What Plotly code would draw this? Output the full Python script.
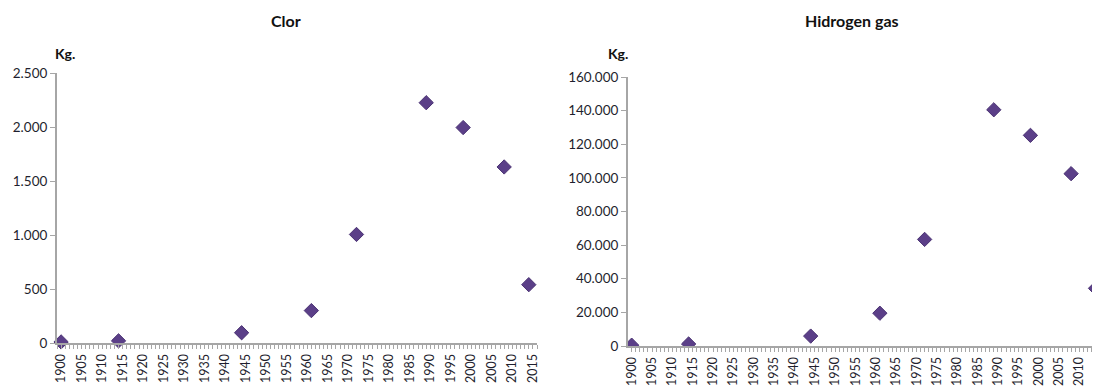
import plotly.graph_objects as go

years = [1900, 1914, 1944, 1961, 1972, 1989, 1998, 2008, 2014]
clor_kg = [10, 20, 95, 300, 1005, 2225, 1995, 1630, 540]
hydrogen_kg = [500, 1200, 5900, 19500, 63400, 140500, 125300, 102500, 34300]

x_tick_years = list(range(1900, 2016, 5))
clor_ticks = [0, 500, 1000, 1500, 2000, 2500]
clor_tick_text = ["0", "500", "1.000", "1.500", "2.000", "2.500"]
hyd_ticks = [0, 20000, 40000, 60000, 80000, 100000, 120000, 140000, 160000]
hyd_tick_text = ["0", "20.000", "40.000", "60.000", "80.000", "100.000", "120.000", "140.000", "160.000"]

# page body has an 8px margin in the browser; size the figure to fill the window
OFF = 8
W, H = 1100 - OFF, 386 - OFF
ML, MR, MT, MB = 57 - OFF, 0, 73 - OFF, 40
PW, PH = W - ML - MR, H - MT - MB

def px(x):  # x in window pixels -> paper fraction
    return (x - OFF - ML) / PW

def py(y):  # y in window pixels -> paper fraction
    return (H - MB - (y - OFF)) / PH

FONT = "Lato, 'Open Sans', sans-serif"
AX = "#a6a6a6"
MCOL = "#5b3f88"
TXT = "#1f1f2e"

fig = go.Figure()
marker = dict(symbol="diamond", size=11, color=MCOL, line=dict(color="#4a3273", width=1))
fig.add_trace(go.Scatter(x=years, y=clor_kg, mode="markers", marker=marker,
                         xaxis="x", yaxis="y", showlegend=False, cliponaxis=False))
fig.add_trace(go.Scatter(x=years, y=hydrogen_kg, mode="markers", marker=marker,
                         xaxis="x2", yaxis="y2", showlegend=False, cliponaxis=True))

xcommon = dict(
    tickmode="array", tickvals=x_tick_years, ticktext=[str(v) for v in x_tick_years],
    tickangle=-90, ticks="outside", ticklen=4, tickcolor=AX, tickwidth=1,
    minor=dict(dtick=1, tick0=1900, ticks="outside", ticklen=4, tickcolor=AX, tickwidth=1),
    showline=True, linecolor=AX, linewidth=2, showgrid=False, zeroline=False,
    tickfont=dict(family=FONT, size=12.5, color=TXT),
)
ycommon = dict(
    ticks="outside", ticklen=5, tickcolor=AX, tickwidth=1,
    showline=True, linecolor=AX, linewidth=2, showgrid=False, zeroline=False,
    tickfont=dict(family=FONT, size=13.5, color=TXT), tickmode="array",
)

def ann(text, x, y, size):
    return dict(text=text, x=px(x), y=py(y), xref="paper", yref="paper",
                xanchor="center", yanchor="middle", showarrow=False,
                font=dict(family=FONT, size=size, color="#111"))

fig.update_layout(
    width=W, height=H,
    margin=dict(l=ML, r=MR, t=MT, b=MB, autoexpand=False),
    paper_bgcolor="white", plot_bgcolor="white",
    xaxis=dict(domain=[0, px(537)], range=[1899.0, 2016.0], anchor="y", **xcommon),
    yaxis=dict(domain=[py(343), 1], range=[0, 2500], anchor="x",
               tickvals=clor_ticks, ticktext=clor_tick_text, **ycommon),
    xaxis2=dict(domain=[px(628), 1], range=[1899.1, 2015.1], anchor="y2", **xcommon),
    yaxis2=dict(domain=[0, py(77)], range=[0, 160000], anchor="x2",
                tickvals=hyd_ticks, ticktext=hyd_tick_text, **ycommon),
    annotations=[
        ann("<b>Clor</b>", 286, 20, 16),
        ann("<b>Hidrogen gas</b>", 852, 20, 16),
        ann("<b>Kg.</b>", 65, 53, 14),
        ann("<b>Kg.</b>", 618, 53, 14),
    ],
)

fig.write_html("out.html")
